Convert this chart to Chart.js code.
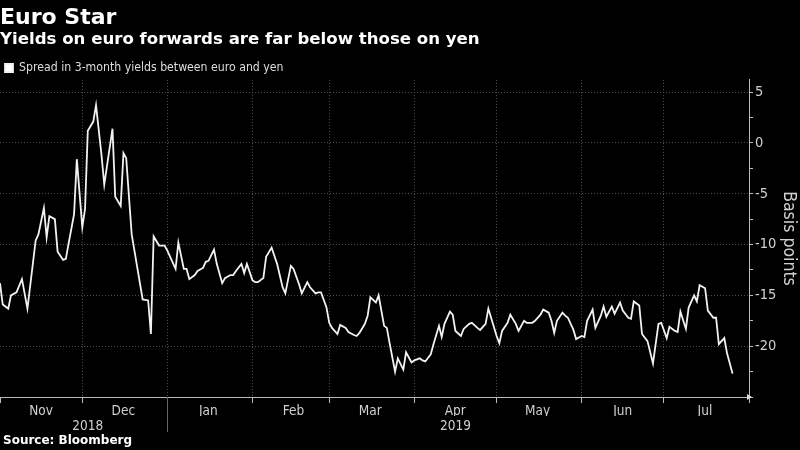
<!DOCTYPE html>
<html>
<head>
<meta charset="utf-8">
<script src="https://cdn.jsdelivr.net/npm/chart.js@4"></script>
<style>
  html, body { margin: 0; padding: 0; background: #000; }
</style>
</head>
<body>
<canvas id="spreadChart" width="800" height="450"></canvas>
<script>
// x values are days since 1 Nov 2018
const monthStarts = [0, 30, 61, 92, 120, 151, 181, 212, 242, 273];
const monthLabels = ['Nov', 'Dec', 'Jan', 'Feb', 'Mar', 'Apr', 'May', 'Jun', 'Jul', ''];
const yearTicks = [32, 166];
const yearLabels = ['2018', '2019'];
const yearStart2019 = 61;

const days = [
    0, 1, 3, 4, 6, 8, 10, 13, 14, 16, 17, 18, 20, 21, 23, 24, 25, 27, 28, 30,
    31, 32, 34, 35, 37, 38, 41, 42, 44, 45, 46, 48, 52, 54, 55, 56, 58, 60, 61, 64,
    65, 67, 68, 69, 71, 72, 74, 75, 76, 78, 79, 81, 82, 84, 85, 86, 88, 89, 90, 92,
    93, 94, 96, 97, 99, 100, 101, 103, 104, 106, 107, 109, 110, 112, 113, 115, 116, 117, 119, 120,
    121, 123, 124, 126, 127, 129, 130, 131, 133, 134, 135, 137, 138, 140, 141, 142, 144, 145, 147, 148,
    150, 151, 153, 154, 155, 157, 158, 160, 161, 162, 164, 165, 166, 168, 169, 171, 172, 174, 175, 177,
    178, 179, 181, 182, 183, 185, 186, 188, 189, 191, 192, 194, 195, 197, 198, 200, 201, 202, 203, 205,
    206, 207, 209, 210, 212, 213, 214, 216, 217, 219, 220, 221, 223, 224, 226, 227, 229, 230, 231, 233,
    234, 236, 238, 240, 241, 243, 244, 246, 247, 248, 250, 251, 253, 254, 255, 257, 258, 260, 261, 262,
    264, 265, 267
];
const spread = [
    -13.8, -15.9, -16.3, -15.0, -14.7, -13.4, -16.3, -9.6, -9.0, -6.4, -9.3, -7.2, -7.5, -10.7, -11.5, -11.4, -9.9, -7.0, -1.6, -8.3,
    -6.5, 1.2, 2.1, 3.7, -1.2, -4.1, 1.4, -5.3, -6.2, -1.0, -1.5, -9.0, -15.4, -15.5, -18.8, -9.2, -10.1, -10.1, -10.6, -12.4,
    -9.8, -12.4, -12.4, -13.4, -13.0, -12.6, -12.3, -11.7, -11.6, -10.5, -11.9, -13.8, -13.3, -13.0, -13.0, -12.6, -11.9, -12.8, -11.9, -13.5,
    -13.7, -13.7, -13.3, -11.2, -10.3, -11.1, -11.9, -14.2, -14.8, -12.1, -12.4, -13.9, -14.8, -13.7, -14.2, -14.8, -14.7, -14.7, -16.2, -17.7,
    -18.2, -18.8, -17.9, -18.2, -18.6, -18.9, -19.0, -18.7, -17.8, -17.0, -15.2, -15.7, -15.0, -18.0, -18.2, -19.7, -22.5, -21.2, -22.3, -20.6,
    -21.6, -21.4, -21.2, -21.4, -21.5, -20.8, -19.8, -18.0, -19.1, -17.8, -16.6, -16.9, -18.5, -19.0, -18.3, -17.8, -17.7, -18.2, -18.4, -17.8,
    -16.3, -17.2, -19.0, -19.7, -18.5, -17.7, -16.9, -17.8, -18.5, -17.5, -17.7, -17.7, -17.5, -16.9, -16.4, -16.7, -17.5, -18.7, -17.5, -16.7,
    -17.0, -17.2, -18.4, -19.3, -19.0, -19.1, -17.5, -16.4, -18.2, -17.0, -16.1, -17.1, -16.1, -16.8, -15.7, -16.5, -17.2, -17.3, -15.6, -16.0,
    -18.8, -19.5, -21.7, -17.8, -17.7, -19.2, -18.1, -18.5, -18.6, -16.6, -18.3, -16.2, -15.0, -15.6, -14.0, -14.3, -16.5, -17.2, -17.2, -19.8,
    -19.2, -20.7, -22.7
];

const NARROW = "'DejaVu Sans Condensed', 'Liberation Sans Narrow', 'DejaVu Sans', sans-serif";
const BOLD = "'DejaVu Sans', Verdana, sans-serif";
Chart.defaults.font.family = NARROW;
Chart.defaults.color = '#d0d0d0';

// year separator, axis arrow and source line
const decorations = {
    id: 'decorations',
    afterDraw(chart) {
        const { ctx, chartArea, scales } = chart;
        const x = scales.x, year = scales.year;
        ctx.save();
        const sx = Math.round(x.getPixelForValue(yearStart2019)) + 0.5;
        ctx.strokeStyle = '#666';
        ctx.lineWidth = 1;
        ctx.beginPath();
        ctx.moveTo(sx, chartArea.bottom);
        ctx.lineTo(sx, year.bottom);
        ctx.stroke();

        ctx.fillStyle = '#ddd';
        ctx.beginPath();
        ctx.moveTo(chartArea.right - 2, chartArea.bottom - 3);
        ctx.lineTo(chartArea.right + 3, chartArea.bottom);
        ctx.lineTo(chartArea.right - 2, chartArea.bottom + 3);
        ctx.closePath();
        ctx.fill();

        ctx.fillStyle = '#fff';
        ctx.font = 'bold 12px ' + BOLD;
        ctx.textBaseline = 'middle';
        ctx.fillText('Source: Bloomberg', 3, year.bottom + 9);
        ctx.restore();
    }
};

const ctx = document.getElementById('spreadChart').getContext('2d');

new Chart(ctx, {
    type: 'line',
    data: {
        datasets: [{
            label: 'Spread in 3-month yields between euro and yen',
            data: days.map((d, i) => ({ x: d, y: spread[i] })),
            borderColor: '#f2f2f2',
            backgroundColor: '#fff',
            borderWidth: 1.8,
            pointRadius: 0,
            tension: 0,
            fill: false
        }]
    },
    options: {
        responsive: false,
        animation: false,
        layout: { padding: { left: 0, right: 0, top: 0, bottom: 18 } },
        plugins: {
            title: {
                display: true,
                text: 'Euro Star',
                align: 'start',
                color: '#fff',
                font: { family: BOLD, size: 22, weight: 'bold', lineHeight: 1 },
                padding: { top: 7, bottom: 0 }
            },
            subtitle: {
                display: true,
                text: 'Yields on euro forwards are far below those on yen',
                align: 'start',
                color: '#fff',
                font: { family: BOLD, size: 16.6, weight: 'bold', lineHeight: 1.2 },
                padding: { top: 1, bottom: 7 }
            },
            legend: {
                display: true,
                align: 'start',
                maxHeight: 23,
                labels: {
                    boxWidth: 8,
                    boxHeight: 8,
                    padding: 5,
                    color: '#ddd',
                    font: { size: 12.2 }
                }
            },
            tooltip: { enabled: false }
        },
        scales: {
            x: {
                type: 'linear',
                position: 'bottom',
                min: monthStarts[0],
                max: monthStarts[monthStarts.length - 1],
                afterBuildTicks: s => { s.ticks = monthStarts.map(v => ({ value: v })); },
                afterFit: s => { s.paddingLeft = 0; s.paddingRight = 0; s.height = 19; },
                ticks: {
                    autoSkip: false,
                    maxRotation: 0,
                    padding: 0,
                    labelOffset: 41,
                    font: { size: 13.5 },
                    callback: (v, i) => monthLabels[i]
                },
                grid: {
                    color: c => (c.tick && (c.tick.value === 0 || c.tick.value === 273)) ? 'transparent' : '#4d4d4d',
                    tickColor: '#bbb',
                    tickLength: 6,
                    tickBorderDash: []
                },
                border: { color: '#bbb', dash: [1, 2] }
            },
            year: {
                type: 'linear',
                position: 'bottom',
                weight: 1,
                min: monthStarts[0],
                max: monthStarts[monthStarts.length - 1],
                afterBuildTicks: s => { s.ticks = yearTicks.map(v => ({ value: v })); },
                afterFit: s => { s.paddingLeft = 0; s.paddingRight = 0; s.height = 16; },
                ticks: {
                    autoSkip: false,
                    maxRotation: 0,
                    padding: 2,
                    font: { size: 13.5 },
                    callback: (v, i) => yearLabels[i]
                },
                grid: { display: false, drawTicks: false },
                border: { display: false }
            },
            y: {
                type: 'linear',
                position: 'right',
                min: -25,
                max: 6.2,
                afterFit: s => { s.width = 51; },
                ticks: {
                    stepSize: 2.5,
                    includeBounds: false,
                    padding: 2,
                    font: { size: 14.5 },
                    callback: v => (v % 5 === 0 && v > -25) ? String(v) : ''
                },
                grid: {
                    color: c => (c.tick && c.tick.value % 5 === 0 && c.tick.value > -25) ? '#4d4d4d' : 'transparent',
                    tickColor: '#bbb',
                    tickLength: 4,
                    tickBorderDash: []
                },
                border: { color: '#bbb', dash: [1, 2] },
                title: {
                    display: true,
                    text: 'Basis points',
                    color: '#d0d0d0',
                    font: { size: 17.5 },
                    padding: { top: 1, bottom: 0 }
                }
            }
        }
    },
    plugins: [decorations]
});
</script>
</body>
</html>
